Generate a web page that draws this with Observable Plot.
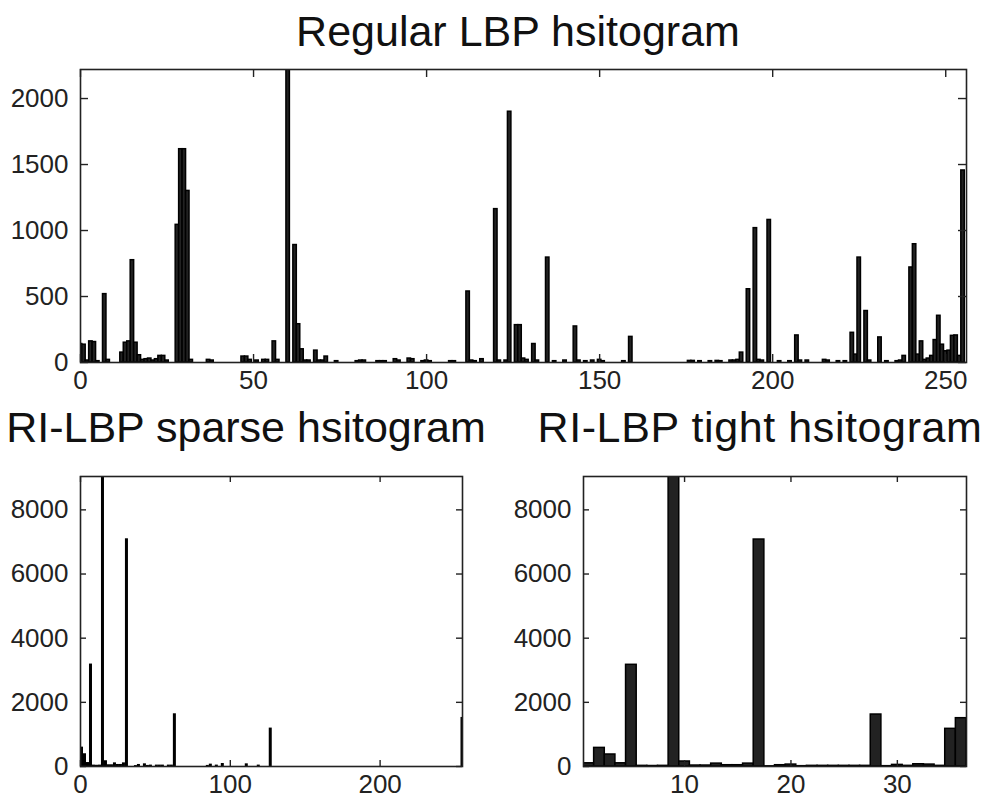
<!DOCTYPE html>
<html><head><meta charset="utf-8">
<script src="https://cdn.jsdelivr.net/npm/d3@7"></script>
<script src="https://cdn.jsdelivr.net/npm/@observablehq/plot@0.6"></script>
<style>
body{margin:0;background:#fff;}
#wrap{position:relative;width:997px;height:806px;background:#fff;overflow:hidden;font-family:"Liberation Sans",Arial,sans-serif;}
.title{position:absolute;font-size:43px;line-height:43px;color:#111;white-space:nowrap;text-align:center;}
.panel{position:absolute;}
</style></head><body>
<div id="wrap">
  <div class="title" id="t1" style="left:75px;top:10px;width:886px;"></div>
  <div class="title" id="t2" style="left:0px;top:406px;width:492px;"></div>
  <div class="title" id="t3" style="left:530px;top:406px;width:460px;letter-spacing:0.6px;"></div>
  <div class="panel" id="p1" style="left:0px;top:60px;"></div>
  <div class="panel" id="p2" style="left:0px;top:460px;"></div>
  <div class="panel" id="p3" style="left:490px;top:460px;"></div>
</div>
<script>
// ---- data ----
const titles = ["Regular LBP hsitogram", "RI-LBP sparse hsitogram", "RI-LBP tight hsitogram"];

// Regular LBP histogram (code -> count), non-zero bins
const regularCodes = [0,1,2,3,4,5,7,8,12,13,14,15,16,17,18,19,20,21,22,23,24,25,28,29,30,31,32,37,38,47,48,49,51,53,54,56,57,60,62,63,64,65,66,68,69,70,71,74,80,81,82,86,87,88,91,92,95,96,99,100,101,107,108,112,113,114,116,120,121,123,124,126,127,128,129,131,132,135,137,140,143,144,146,148,150,151,157,159,176,177,179,182,184,185,188,189,190,191,193,195,196,197,199,202,205,207,208,210,215,216,219,221,223,224,225,227,228,231,233,236,237,238,240,241,242,243,244,245,246,247,248,249,250,251,252,253,254,255];
const regularCounts = [140,135,15,160,155,10,518,20,75,150,160,775,150,55,20,25,30,15,25,50,50,15,1043,1616,1616,1300,20,20,15,45,45,20,15,20,20,160,20,2230,890,290,100,15,15,90,15,15,45,10,10,15,15,10,10,10,25,15,30,25,10,15,10,10,10,538,15,10,25,1162,15,15,1900,283,283,30,20,140,15,795,10,15,273,15,10,15,20,10,10,194,12,12,10,10,12,10,15,15,20,75,555,1018,20,15,1080,10,10,205,15,15,20,15,10,10,225,60,795,390,15,190,10,10,15,50,720,896,60,160,20,30,50,170,354,135,85,90,202,205,50,1455];
const regularXTicks = [0, 50, 100, 150, 200, 250];
const regularYTicks = [0, 500, 1000, 1500, 2000];

// Rotation-invariant LBP: 36 patterns, their minimum codes and counts
const riCodes = [0,1,3,5,7,9,11,13,15,17,19,21,23,25,27,29,31,37,39,43,45,47,51,53,55,59,61,63,85,87,91,95,111,119,127,255];
const riCounts = [100,580,374,100,3170,20,15,20,9100,156,30,30,90,40,40,90,7075,5,40,60,10,20,20,20,20,20,20,1620,10,50,20,70,60,20,1174,1506];
const sparseXTicks = [0, 100, 200];
const tightXTicks = [10, 20, 30];
const riYTicks = [0, 2000, 4000, 6000, 8000];

// ---- drawing ----
const FONT = '"Liberation Sans", Arial, sans-serif';
function panel({data, xDomain, yDomain, xTicks, yTicks, width, height, ml, mr, mt, mb, tick, barW, sw}) {
  const fw = width - ml - mr, fh = height - mt - mb;
  const ink = "#222";
  return Plot.plot({
    width, height, marginLeft: ml, marginRight: mr, marginTop: mt, marginBottom: mb,
    style: {fontFamily: FONT, fontSize: "26px", color: ink, background: "transparent", overflow: "visible"},
    x: {domain: xDomain},
    y: {domain: yDomain},
    marks: [
      Plot.rect(data, {x1: d => d.x - barW / 2, x2: d => d.x + barW / 2, y1: 0, y2: "y",
        fill: "#222", stroke: "#000", strokeWidth: sw, clip: true}),
      Plot.frame({stroke: ink, strokeWidth: 1.6}),
      Plot.tickY(yTicks, {y: d => d, insetRight: fw - tick, stroke: ink, strokeWidth: 1.4}),
      Plot.tickY(yTicks, {y: d => d, insetLeft: fw - tick, stroke: ink, strokeWidth: 1.4}),
      Plot.tickX(xTicks, {x: d => d, insetTop: fh - tick, stroke: ink, strokeWidth: 1.4}),
      Plot.tickX(xTicks, {x: d => d, insetBottom: fh - tick, stroke: ink, strokeWidth: 1.4}),
      Plot.axisX(xTicks, {tickSize: 0, tickPadding: 8, tickFormat: d => String(d), fontSize: 26, label: null}),
      Plot.axisY(yTicks, {tickSize: 0, tickPadding: 12, tickFormat: d => String(d), fontSize: 26, label: null})
    ]
  });
}

document.getElementById("t1").textContent = titles[0];
document.getElementById("t2").textContent = titles[1];
document.getElementById("t3").textContent = titles[2];

const regularData = regularCodes.map((c, i) => ({x: c, y: regularCounts[i]}));
const sparseData = riCodes.map((c, i) => ({x: c, y: riCounts[i]}));
const tightData = riCounts.map((v, i) => ({x: i + 1, y: v}));

document.getElementById("p1").append(panel({
  data: regularData, xDomain: [0, 256], yDomain: [0, 2220],
  xTicks: regularXTicks, yTicks: regularYTicks,
  width: 997, height: 340, ml: 80, mr: 31, mt: 9, mb: 38, tick: 8, barW: 1, sw: 1.5
}));
document.getElementById("p2").append(panel({
  data: sparseData, xDomain: [0, 255], yDomain: [0, 9040],
  xTicks: sparseXTicks, yTicks: riYTicks,
  width: 490, height: 346, ml: 80, mr: 28, mt: 16, mb: 40, tick: 6, barW: 1, sw: 1.5
}));
document.getElementById("p3").append(panel({
  data: tightData, xDomain: [0.5, 36.5], yDomain: [0, 9040],
  xTicks: tightXTicks, yTicks: riYTicks,
  width: 507, height: 346, ml: 93, mr: 31, mt: 16, mb: 40, tick: 6, barW: 1, sw: 1.5
}));
</script>
</body></html>
